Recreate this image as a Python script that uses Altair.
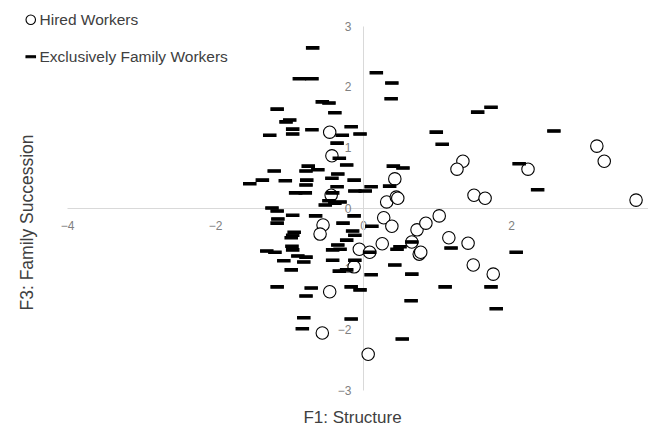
import altair as alt
import pandas as pd

groups = ["Hired Workers", "Exclusively Family Workers"]

hired_x = [-0.45, -0.42, -0.43, 0.43, 0.32, 0.45, 0.47, -0.54, -0.58, 0.28, 0.39,
           -0.05, 0.09, 0.26, -0.12, -0.45, -0.55, 0.07, 3.16, 3.26, 3.69, 1.35,
           1.27, 2.23, 1.50, 1.65, 0.73, 0.85, 1.03, 0.66, 0.76, 0.78, 1.16, 1.42,
           1.49, 1.76]
hired_y = [1.25, 0.86, 0.21, 0.48, 0.10, 0.18, 0.16, -0.28, -0.43, -0.16, -0.30,
           -0.68, -0.73, -0.59, -0.97, -1.38, -2.06, -2.41, 1.02, 0.77, 0.13, 0.77,
           0.64, 0.64, 0.21, 0.16, -0.36, -0.25, -0.13, -0.56, -0.76, -0.73, -0.49,
           -0.58, -0.94, -1.09]

family_x = [-0.68, -0.86, -0.69, 0.18, 0.39, 0.38, -0.55, -0.46, -1.16, -0.38,
            -0.99, -1.04, -0.16, -0.95, -0.69, -0.95, -1.26, -0.28, -0.04, -0.35,
            -0.32, -0.22, -0.74, -0.77, -0.61, -1.20, -0.34, -0.42, -0.12, 0.41,
            0.54, -1.53, -1.36, -1.05, -0.76, -0.77, -0.35, 0.11, 0.36, -0.91,
            -0.78, -0.11, 0.03, -0.41, -0.46, -0.38, -0.51, -0.31, -1.23, -1.16,
            -0.95, -0.64, -0.12, -1.15, -1.16, -0.27, 0.12, -0.93, -0.95, -0.97,
            -0.14, -0.11, -0.22, -0.96, -0.34, -0.41, -0.31, -0.95, -1.30, -1.19,
            0.09, 0.46, 0.50, -0.88, -0.77, -1.07, -0.80, -0.41, -0.11, 0.43,
            -0.97, -0.32, -0.22, 0.11, -1.16, -0.70, -0.16, -0.04, -0.77, -0.80,
            -0.16, -0.82, 0.53, 0.65, 0.66, 1.19, 0.66, 2.07, 1.11, 1.73,
            1.80, 1.55, 1.73, 0.99, 1.07, 2.58, 2.11, 2.36]
family_y = [2.64, 2.13, 2.13, 2.23, 2.06, 1.80, 1.75, 1.73, 1.63, 1.57,
            1.45, 1.42, 1.34, 1.30, 1.29, 1.22, 1.20, 1.20, 1.22, 1.07,
            0.82, 0.71, 0.69, 0.61, 0.63, 0.61, 0.56, 0.49, 0.46, 0.69,
            0.66, 0.40, 0.46, 0.45, 0.46, 0.38, 0.35, 0.35, 0.36, 0.25,
            0.25, 0.28, 0.28, 0.25, 0.12, 0.08, 0.05, 0.10, 0.00, -0.05,
            -0.12, -0.13, -0.13, -0.18, -0.25, -0.25, -0.30, -0.40, -0.45, -0.49,
            -0.38, -0.45, -0.53, -0.63, -0.61, -0.69, -0.68, -0.69, -0.71, -0.73,
            -0.73, -0.68, -0.64, -0.79, -0.81, -0.87, -0.89, -0.86, -0.86, -0.94,
            -1.02, -1.04, -1.02, -1.10, -1.30, -1.32, -1.30, -1.35, -1.45, -1.81,
            -1.83, -1.99, -2.16, -1.53, -0.56, -0.66, -1.09, -0.73, -1.30, -1.30,
            -1.66, 1.58, 1.66, 1.25, 1.05, 1.27, 0.73, 0.30]

x_ticks = [-4, -2, 0, 2, 4]
y_ticks = [-3, -2, -1, 0, 1, 2, 3]

df = pd.DataFrame({
    "F1": hired_x + family_x,
    "F3": hired_y + family_y,
    "group": [groups[0]] * len(hired_x) + [groups[1]] * len(family_x),
})

DASH = "M-1,-0.2L1,-0.2L1,0.2L-1,0.2Z"
FONT = "Liberation Sans"
W, H = 581, 364
FULL_W = 592

legend = alt.Legend(title=None, orient="none", legendX=-44, legendY=-14,
                    labelFontSize=15.5, labelFont=FONT, labelColor="#404040",
                    labelLimit=0,
                    symbolSize=90, symbolStrokeWidth=1.1, symbolStrokeColor="black",
                    rowPadding=20, labelOffset=1, padding=0)

common_axis = dict(ticks=False, grid=False, domainColor="#d9d9d9", domainWidth=1,
                   labelColor="#808080", labelFontSize=12, labelFont=FONT,
                   labelFlush=False, labelOverlap=False,
                   titleFontWeight="normal", titleFont=FONT,
                   titleColor="#404040", titleBaseline="middle", titleAlign="center")

chart = alt.Chart(df).mark_point(
    filled=False, size=155, strokeWidth=1.1, opacity=1
).encode(
    x=alt.X("F1:Q",
            scale=alt.Scale(domain=[-4, 4], nice=False, zero=False, range=[0, FULL_W]),
            axis=alt.Axis(values=x_ticks, offset=-H / 2, labelPadding=12,
                          title="F1: Structure", titleX=285, titleY=209,
                          titleFontSize=17, **common_axis)),
    y=alt.Y("F3:Q",
            scale=alt.Scale(domain=[-3, 3], nice=False, zero=False),
            axis=alt.Axis(values=y_ticks, offset=-FULL_W / 2, labelPadding=12,
                          title="F3: Family Succession", titleX=-336, titleY=196,
                          titleAngle=-90, titleFontSize=17.5, **common_axis)),
    shape=alt.Shape("group:N", scale=alt.Scale(domain=groups, range=["circle", DASH]),
                    legend=legend),
    fill=alt.Fill("group:N", scale=alt.Scale(domain=groups, range=["white", "black"]),
                  legend=legend),
    stroke=alt.Stroke("group:N", scale=alt.Scale(domain=groups, range=["black", "black"]),
                      legend=legend),
).properties(
    width=W, height=H, autosize="none",
    padding={"left": 59, "top": 18, "right": 0, "bottom": 44},
    background="white",
).configure_view(stroke=None)

chart.save("out.html", embed_options={"renderer": "svg", "actions": False})
